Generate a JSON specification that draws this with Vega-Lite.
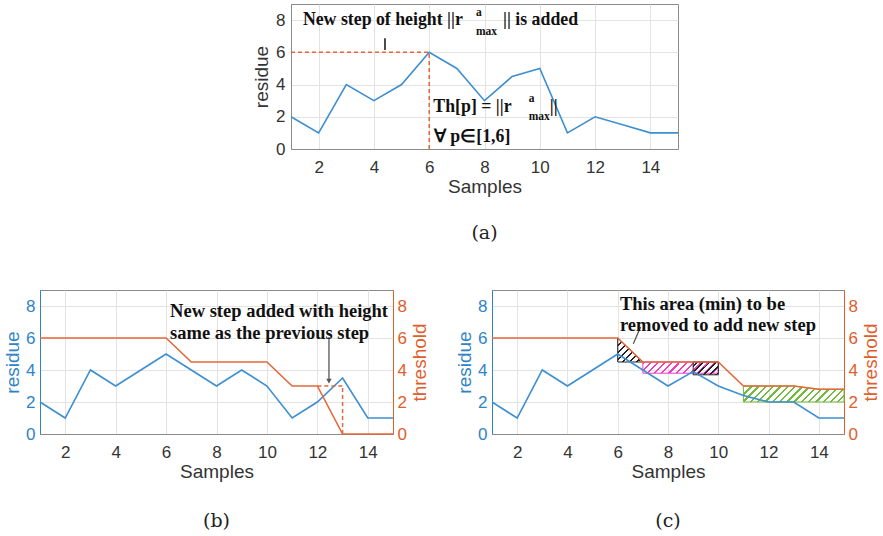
{
  "$schema": "https://vega.github.io/schema/vega-lite/v6.json",
  "background": "white",
  "padding": {"left": 3, "top": 3, "right": 5, "bottom": 5},
  "spacing": 45,
  "config": {
    "view": {"stroke": "#8a8a8a", "strokeWidth": 1},
    "axis": {"grid": true, "gridColor": "#e3e3e3", "gridWidth": 1, "ticks": false, "tickSize": 0, "domainColor": "#8a8a8a", "labelFont": "Liberation Sans", "titleFont": "Liberation Sans", "labelFontSize": 17, "titleFontSize": 19, "titleFontWeight": "normal", "labelColor": "#333333", "titleColor": "#333333", "labelPadding": 6},
    "title": {"font": "DejaVu Serif", "fontSize": 19, "fontWeight": "normal", "orient": "bottom", "frame": "group", "anchor": "middle", "color": "#222222"}
  },
  "datasets": {
    "resA": [{"x":1,"y":2},{"x":2,"y":1},{"x":3,"y":4},{"x":4,"y":3},{"x":5,"y":4},{"x":6,"y":6},{"x":7,"y":5},{"x":8,"y":3},{"x":9,"y":4.5},{"x":10,"y":5},{"x":11,"y":1},{"x":12,"y":2},{"x":13,"y":1.5},{"x":14,"y":1},{"x":15,"y":1}],
    "bR": [{"x":1,"y":2},{"x":2,"y":1},{"x":3,"y":4},{"x":4,"y":3},{"x":5,"y":4},{"x":6,"y":5},{"x":7,"y":4},{"x":8,"y":3},{"x":9,"y":4},{"x":10,"y":3},{"x":11,"y":1},{"x":12,"y":2},{"x":13,"y":3.5},{"x":14,"y":1},{"x":15,"y":1}],
    "bT": [{"x":1,"y":6},{"x":2,"y":6},{"x":3,"y":6},{"x":4,"y":6},{"x":5,"y":6},{"x":6,"y":6},{"x":7,"y":4.5},{"x":8,"y":4.5},{"x":9,"y":4.5},{"x":10,"y":4.5},{"x":11,"y":3},{"x":12,"y":3},{"x":13,"y":0},{"x":14,"y":0},{"x":15,"y":0}],
    "cR": [{"x":1,"y":2},{"x":2,"y":1},{"x":3,"y":4},{"x":4,"y":3},{"x":5,"y":4},{"x":6,"y":5},{"x":7,"y":4},{"x":8,"y":3},{"x":9,"y":3.9},{"x":10,"y":3},{"x":11,"y":2.4},{"x":12,"y":2},{"x":13,"y":2},{"x":14,"y":1},{"x":15,"y":1}],
    "cT": [{"x":1,"y":6},{"x":2,"y":6},{"x":3,"y":6},{"x":4,"y":6},{"x":5,"y":6},{"x":6,"y":6},{"x":7,"y":4.5},{"x":8,"y":4.5},{"x":9,"y":4.5},{"x":10,"y":4.5},{"x":11,"y":3},{"x":12,"y":3},{"x":13,"y":3},{"x":14,"y":2.8},{"x":15,"y":2.8}],
    "dashA": [{"x":1,"x2":6,"y":6,"y2":6},{"x":6,"x2":6,"y":0,"y2":6}],
    "dashB": [{"x":12,"x2":13,"y":3,"y2":3},{"x":13,"x2":13,"y":0,"y2":3}],
    "arrA": [{"x":4.4,"x2":4.4,"y":6.15,"y2":6.87}],
    "arrB": [{"x":12.46,"x2":12.46,"y":3.3,"y2":6.06}],
    "arrC": [{"x":6.62,"x2":6.91,"y":5.64,"y2":6.69}],
    "txtA": [{"x":1.43,"y":8,"s":"New step of height ||r"},{"x":8.67,"y":8,"s":"|| is added"},{"x":6.15,"y":2.59,"s":"Th[p] = ||r"},{"x":10.36,"y":2.59,"s":"||"},{"x":6.17,"y":0.72,"s":"∀ p∈[1,6]"}],
    "scrA": [{"x":7.69,"y":8.44,"s":"a"},{"x":7.69,"y":7.24,"s":"max"},{"x":9.6,"y":3.1,"s":"a"},{"x":9.6,"y":1.97,"s":"max"}],
    "txtB": [{"x":6.16,"y":7.69,"s":"New step added with height"},{"x":6.16,"y":6.31,"s":"same as the previous step"}],
    "txtC": [{"x":6.09,"y":8.13,"s":"This area (min) to be"},{"x":6.09,"y":6.81,"s":"removed to add new step"}],
    "regions": [
      {"g":"k1","x":6,"y":6,"y2":4.5},{"g":"k1","x":7,"y":4.5,"y2":4.5},
      {"g":"m","x":7,"y":4.5,"y2":3.8},{"g":"m","x":10,"y":4.5,"y2":3.8},
      {"g":"k2","x":9,"y":4.5,"y2":3.7},{"g":"k2","x":10,"y":4.5,"y2":3.7},
      {"g":"gr","x":11,"y":3,"y2":2},{"g":"gr","x":13,"y":3,"y2":2},{"g":"gr","x":14,"y":2.8,"y2":2},{"g":"gr","x":15,"y":2.8,"y2":2}
    ]
  },
  "vconcat": [
    {
      "spacing": 0,
      "hconcat": [
        {
          "width": 212, "height": 10,
          "data": {"values": [{"a": 1}]},
          "mark": {"type": "text", "text": " "},
          "encoding": {},
          "view": {"stroke": null}
        },
        {
          "width": 387, "height": 145,
          "title": {"text": "(a)", "offset": 28},
          "encoding": {
            "x": {"field": "x", "type": "quantitative", "scale": {"domain": [1, 15], "nice": false}, "axis": {"title": "Samples", "values": [2,4,6,8,10,12,14], "labelPadding": 10, "titlePadding": 2}},
            "y": {"field": "y", "type": "quantitative", "scale": {"domain": [0, 9], "nice": false}, "axis": {"title": "residue", "values": [0,2,4,6,8], "labelPadding": 6, "titlePadding": 4}}
          },
          "layer": [
            {"data": {"name": "dashA"}, "mark": {"type": "rule", "color": "#e8643a", "strokeDash": [4, 3], "strokeWidth": 1.5},
             "encoding": {"x2": {"field": "x2"}, "y2": {"field": "y2"}}},
            {"data": {"name": "resA"}, "mark": {"type": "line", "color": "#3e8fd1", "strokeWidth": 1.6}, "encoding": {}},
            {"data": {"name": "arrA"}, "mark": {"type": "rule", "color": "#111111", "strokeWidth": 1.5},
             "encoding": {"x2": {"field": "x2"}, "y2": {"field": "y2"}}},
            {"data": {"name": "txtA"}, "mark": {"type": "text", "align": "left", "baseline": "middle", "font": "Liberation Serif", "fontWeight": "bold", "fontSize": 17.8, "color": "#111111"},
             "encoding": {"text": {"field": "s"}}},
            {"data": {"name": "scrA"}, "mark": {"type": "text", "align": "left", "baseline": "middle", "font": "Liberation Serif", "fontWeight": "bold", "fontSize": 11.5, "color": "#111111"},
             "encoding": {"text": {"field": "s"}}}
          ]
        }
      ]
    },
    {
      "spacing": 25,
      "hconcat": [
        {
          "width": 353, "height": 144,
          "title": {"text": "(b)", "offset": 31},
          "resolve": {"scale": {"y": "independent"}},
          "encoding": {
            "x": {"field": "x", "type": "quantitative", "scale": {"domain": [1, 15], "nice": false}, "axis": {"title": "Samples", "values": [2,4,6,8,10,12,14], "labelPadding": 10, "titlePadding": 2}}
          },
          "layer": [
            {
              "encoding": {"y": {"field": "y", "type": "quantitative", "scale": {"domain": [0, 9], "nice": false}, "axis": {"orient": "left", "title": "residue", "values": [0,2,4,6,8], "labelColor": "#2f84c6", "titleColor": "#2f84c6", "domainColor": "#2f84c6", "labelPadding": 5, "titlePadding": 3}}},
              "layer": [
                {"data": {"name": "bR"}, "mark": {"type": "line", "color": "#3e8fd1", "strokeWidth": 1.6}, "encoding": {}},
                {"data": {"name": "arrB"}, "mark": {"type": "rule", "color": "#555555", "strokeWidth": 1.3},
                 "encoding": {"x2": {"field": "x2"}, "y2": {"field": "y2"}}},
                {"data": {"name": "arrB"}, "mark": {"type": "point", "shape": "triangle-down", "filled": true, "color": "#555555", "size": 30, "opacity": 1}, "encoding": {}},
                {"data": {"name": "txtB"}, "mark": {"type": "text", "align": "left", "baseline": "middle", "font": "Liberation Serif", "fontWeight": "bold", "fontSize": 18.5, "color": "#111111"},
                 "encoding": {"text": {"field": "s"}}}
              ]
            },
            {
              "encoding": {"y": {"field": "y", "type": "quantitative", "scale": {"domain": [0, 9], "nice": false}, "axis": {"orient": "right", "title": "threshold", "values": [0,2,4,6,8], "grid": false, "labelColor": "#e05d2c", "titleColor": "#e05d2c", "domainColor": "#e05d2c", "labelPadding": 4, "titlePadding": 4, "titleAngle": 270, "titleBaseline": "top"}}},
              "layer": [
                {"data": {"name": "bT"}, "mark": {"type": "line", "color": "#e4683b", "strokeWidth": 1.6}, "encoding": {}},
                {"data": {"name": "dashB"}, "mark": {"type": "rule", "color": "#e4683b", "strokeDash": [4, 3], "strokeWidth": 1.5},
                 "encoding": {"x2": {"field": "x2"}, "y2": {"field": "y2"}}}
              ]
            }
          ]
        },
        {
          "width": 352, "height": 144,
          "title": {"text": "(c)", "offset": 31},
          "resolve": {"scale": {"y": "independent"}},
          "encoding": {
            "x": {"field": "x", "type": "quantitative", "scale": {"domain": [1, 15], "nice": false}, "axis": {"title": "Samples", "values": [2,4,6,8,10,12,14], "labelPadding": 10, "titlePadding": 2}}
          },
          "layer": [
            {
              "encoding": {"y": {"field": "y", "type": "quantitative", "scale": {"domain": [0, 9], "nice": false}, "axis": {"orient": "left", "title": "residue", "values": [0,2,4,6,8], "labelColor": "#2f84c6", "titleColor": "#2f84c6", "domainColor": "#2f84c6", "labelPadding": 5, "titlePadding": 3}}},
              "layer": [
                {"data": {"name": "regions"}, "transform": [{"filter": "datum.g === 'k1'"}],
                 "mark": {"type": "area", "orient": "vertical", "stroke": "#222222", "strokeWidth": 1,
                          "fill": {"gradient": "linear", "x1": 0, "y1": 0, "x2": 1, "y2": 1, "stops": [
                            {"offset": 0, "color": "#222222"}, {"offset": 0.045, "color": "#222222"}, {"offset": 0.045, "color": "rgba(34,34,34,0)"}, {"offset": 0.1429, "color": "rgba(34,34,34,0)"},
                            {"offset": 0.1429, "color": "#222222"}, {"offset": 0.1879, "color": "#222222"}, {"offset": 0.1879, "color": "rgba(34,34,34,0)"}, {"offset": 0.2857, "color": "rgba(34,34,34,0)"},
                            {"offset": 0.2857, "color": "#222222"}, {"offset": 0.3307, "color": "#222222"}, {"offset": 0.3307, "color": "rgba(34,34,34,0)"}, {"offset": 0.4286, "color": "rgba(34,34,34,0)"},
                            {"offset": 0.4286, "color": "#222222"}, {"offset": 0.4736, "color": "#222222"}, {"offset": 0.4736, "color": "rgba(34,34,34,0)"}, {"offset": 0.5714, "color": "rgba(34,34,34,0)"},
                            {"offset": 0.5714, "color": "#222222"}, {"offset": 0.6164, "color": "#222222"}, {"offset": 0.6164, "color": "rgba(34,34,34,0)"}, {"offset": 0.7143, "color": "rgba(34,34,34,0)"},
                            {"offset": 0.7143, "color": "#222222"}, {"offset": 0.7593, "color": "#222222"}, {"offset": 0.7593, "color": "rgba(34,34,34,0)"}, {"offset": 0.8571, "color": "rgba(34,34,34,0)"},
                            {"offset": 0.8571, "color": "#222222"}, {"offset": 0.9021, "color": "#222222"}, {"offset": 0.9021, "color": "rgba(34,34,34,0)"}, {"offset": 1, "color": "rgba(34,34,34,0)"}]}},
                 "encoding": {"y2": {"field": "y2"}}},
                {"data": {"name": "regions"}, "transform": [{"filter": "datum.g === 'm'"}],
                 "mark": {"type": "area", "orient": "vertical", "stroke": "#ee3fc4", "strokeWidth": 1,
                          "fill": {"gradient": "linear", "x1": 0, "y1": 0, "x2": 1.12, "y2": 0.165, "stops": [
                            {"offset": 0, "color": "#ee3fc4"}, {"offset": 0.025, "color": "#ee3fc4"}, {"offset": 0.025, "color": "rgba(238,63,196,0)"}, {"offset": 0.0833, "color": "rgba(238,63,196,0)"},
                            {"offset": 0.0833, "color": "#ee3fc4"}, {"offset": 0.1083, "color": "#ee3fc4"}, {"offset": 0.1083, "color": "rgba(238,63,196,0)"}, {"offset": 0.1667, "color": "rgba(238,63,196,0)"},
                            {"offset": 0.1667, "color": "#ee3fc4"}, {"offset": 0.1917, "color": "#ee3fc4"}, {"offset": 0.1917, "color": "rgba(238,63,196,0)"}, {"offset": 0.25, "color": "rgba(238,63,196,0)"},
                            {"offset": 0.25, "color": "#ee3fc4"}, {"offset": 0.275, "color": "#ee3fc4"}, {"offset": 0.275, "color": "rgba(238,63,196,0)"}, {"offset": 0.3333, "color": "rgba(238,63,196,0)"},
                            {"offset": 0.3333, "color": "#ee3fc4"}, {"offset": 0.3583, "color": "#ee3fc4"}, {"offset": 0.3583, "color": "rgba(238,63,196,0)"}, {"offset": 0.4167, "color": "rgba(238,63,196,0)"},
                            {"offset": 0.4167, "color": "#ee3fc4"}, {"offset": 0.4417, "color": "#ee3fc4"}, {"offset": 0.4417, "color": "rgba(238,63,196,0)"}, {"offset": 0.5, "color": "rgba(238,63,196,0)"},
                            {"offset": 0.5, "color": "#ee3fc4"}, {"offset": 0.525, "color": "#ee3fc4"}, {"offset": 0.525, "color": "rgba(238,63,196,0)"}, {"offset": 0.5833, "color": "rgba(238,63,196,0)"},
                            {"offset": 0.5833, "color": "#ee3fc4"}, {"offset": 0.6083, "color": "#ee3fc4"}, {"offset": 0.6083, "color": "rgba(238,63,196,0)"}, {"offset": 0.6667, "color": "rgba(238,63,196,0)"},
                            {"offset": 0.6667, "color": "#ee3fc4"}, {"offset": 0.6917, "color": "#ee3fc4"}, {"offset": 0.6917, "color": "rgba(238,63,196,0)"}, {"offset": 0.75, "color": "rgba(238,63,196,0)"},
                            {"offset": 0.75, "color": "#ee3fc4"}, {"offset": 0.775, "color": "#ee3fc4"}, {"offset": 0.775, "color": "rgba(238,63,196,0)"}, {"offset": 0.8333, "color": "rgba(238,63,196,0)"},
                            {"offset": 0.8333, "color": "#ee3fc4"}, {"offset": 0.8583, "color": "#ee3fc4"}, {"offset": 0.8583, "color": "rgba(238,63,196,0)"}, {"offset": 0.9167, "color": "rgba(238,63,196,0)"},
                            {"offset": 0.9167, "color": "#ee3fc4"}, {"offset": 0.9417, "color": "#ee3fc4"}, {"offset": 0.9417, "color": "rgba(238,63,196,0)"}, {"offset": 1, "color": "rgba(238,63,196,0)"}]}},
                 "encoding": {"y2": {"field": "y2"}}},
                {"data": {"name": "regions"}, "transform": [{"filter": "datum.g === 'k2'"}],
                 "mark": {"type": "area", "orient": "vertical", "stroke": "#222222", "strokeWidth": 1,
                          "fill": {"gradient": "linear", "x1": 0, "y1": 0, "x2": 1.2, "y2": 0.62, "stops": [
                            {"offset": 0, "color": "rgba(34,34,34,0)"}, {"offset": 0.0833, "color": "rgba(34,34,34,0)"}, {"offset": 0.0833, "color": "#222222"}, {"offset": 0.1333, "color": "#222222"},
                            {"offset": 0.1333, "color": "rgba(34,34,34,0)"}, {"offset": 0.25, "color": "rgba(34,34,34,0)"}, {"offset": 0.25, "color": "#222222"}, {"offset": 0.3, "color": "#222222"},
                            {"offset": 0.3, "color": "rgba(34,34,34,0)"}, {"offset": 0.4167, "color": "rgba(34,34,34,0)"}, {"offset": 0.4167, "color": "#222222"}, {"offset": 0.4667, "color": "#222222"},
                            {"offset": 0.4667, "color": "rgba(34,34,34,0)"}, {"offset": 0.5833, "color": "rgba(34,34,34,0)"}, {"offset": 0.5833, "color": "#222222"}, {"offset": 0.6333, "color": "#222222"},
                            {"offset": 0.6333, "color": "rgba(34,34,34,0)"}, {"offset": 0.75, "color": "rgba(34,34,34,0)"}, {"offset": 0.75, "color": "#222222"}, {"offset": 0.8, "color": "#222222"},
                            {"offset": 0.8, "color": "rgba(34,34,34,0)"}, {"offset": 0.9167, "color": "rgba(34,34,34,0)"}, {"offset": 0.9167, "color": "#222222"}, {"offset": 0.9667, "color": "#222222"},
                            {"offset": 0.9667, "color": "rgba(34,34,34,0)"}, {"offset": 1, "color": "rgba(34,34,34,0)"}]}},
                 "encoding": {"y2": {"field": "y2"}}},
                {"data": {"name": "regions"}, "transform": [{"filter": "datum.g === 'gr'"}],
                 "mark": {"type": "area", "orient": "vertical", "stroke": "#72bb3c", "strokeWidth": 1,
                          "fill": {"gradient": "linear", "x1": 0, "y1": 0, "x2": 1.13, "y2": 0.18, "stops": [
                            {"offset": 0, "color": "#72bb3c"}, {"offset": 0.02, "color": "#72bb3c"}, {"offset": 0.02, "color": "rgba(114,187,60,0)"}, {"offset": 0.0625, "color": "rgba(114,187,60,0)"},
                            {"offset": 0.0625, "color": "#72bb3c"}, {"offset": 0.0825, "color": "#72bb3c"}, {"offset": 0.0825, "color": "rgba(114,187,60,0)"}, {"offset": 0.125, "color": "rgba(114,187,60,0)"},
                            {"offset": 0.125, "color": "#72bb3c"}, {"offset": 0.145, "color": "#72bb3c"}, {"offset": 0.145, "color": "rgba(114,187,60,0)"}, {"offset": 0.1875, "color": "rgba(114,187,60,0)"},
                            {"offset": 0.1875, "color": "#72bb3c"}, {"offset": 0.2075, "color": "#72bb3c"}, {"offset": 0.2075, "color": "rgba(114,187,60,0)"}, {"offset": 0.25, "color": "rgba(114,187,60,0)"},
                            {"offset": 0.25, "color": "#72bb3c"}, {"offset": 0.27, "color": "#72bb3c"}, {"offset": 0.27, "color": "rgba(114,187,60,0)"}, {"offset": 0.3125, "color": "rgba(114,187,60,0)"},
                            {"offset": 0.3125, "color": "#72bb3c"}, {"offset": 0.3325, "color": "#72bb3c"}, {"offset": 0.3325, "color": "rgba(114,187,60,0)"}, {"offset": 0.375, "color": "rgba(114,187,60,0)"},
                            {"offset": 0.375, "color": "#72bb3c"}, {"offset": 0.395, "color": "#72bb3c"}, {"offset": 0.395, "color": "rgba(114,187,60,0)"}, {"offset": 0.4375, "color": "rgba(114,187,60,0)"},
                            {"offset": 0.4375, "color": "#72bb3c"}, {"offset": 0.4575, "color": "#72bb3c"}, {"offset": 0.4575, "color": "rgba(114,187,60,0)"}, {"offset": 0.5, "color": "rgba(114,187,60,0)"},
                            {"offset": 0.5, "color": "#72bb3c"}, {"offset": 0.52, "color": "#72bb3c"}, {"offset": 0.52, "color": "rgba(114,187,60,0)"}, {"offset": 0.5625, "color": "rgba(114,187,60,0)"},
                            {"offset": 0.5625, "color": "#72bb3c"}, {"offset": 0.5825, "color": "#72bb3c"}, {"offset": 0.5825, "color": "rgba(114,187,60,0)"}, {"offset": 0.625, "color": "rgba(114,187,60,0)"},
                            {"offset": 0.625, "color": "#72bb3c"}, {"offset": 0.645, "color": "#72bb3c"}, {"offset": 0.645, "color": "rgba(114,187,60,0)"}, {"offset": 0.6875, "color": "rgba(114,187,60,0)"},
                            {"offset": 0.6875, "color": "#72bb3c"}, {"offset": 0.7075, "color": "#72bb3c"}, {"offset": 0.7075, "color": "rgba(114,187,60,0)"}, {"offset": 0.75, "color": "rgba(114,187,60,0)"},
                            {"offset": 0.75, "color": "#72bb3c"}, {"offset": 0.77, "color": "#72bb3c"}, {"offset": 0.77, "color": "rgba(114,187,60,0)"}, {"offset": 0.8125, "color": "rgba(114,187,60,0)"},
                            {"offset": 0.8125, "color": "#72bb3c"}, {"offset": 0.8325, "color": "#72bb3c"}, {"offset": 0.8325, "color": "rgba(114,187,60,0)"}, {"offset": 0.875, "color": "rgba(114,187,60,0)"},
                            {"offset": 0.875, "color": "#72bb3c"}, {"offset": 0.895, "color": "#72bb3c"}, {"offset": 0.895, "color": "rgba(114,187,60,0)"}, {"offset": 0.9375, "color": "rgba(114,187,60,0)"},
                            {"offset": 0.9375, "color": "#72bb3c"}, {"offset": 0.9575, "color": "#72bb3c"}, {"offset": 0.9575, "color": "rgba(114,187,60,0)"}, {"offset": 1, "color": "rgba(114,187,60,0)"}]}},
                 "encoding": {"y2": {"field": "y2"}}},
                {"data": {"name": "cR"}, "mark": {"type": "line", "color": "#3e8fd1", "strokeWidth": 1.6}, "encoding": {}},
                {"data": {"name": "arrC"}, "mark": {"type": "rule", "color": "#555555", "strokeWidth": 1.3},
                 "encoding": {"x2": {"field": "x2"}, "y2": {"field": "y2"}}},
                {"data": {"name": "txtC"}, "mark": {"type": "text", "align": "left", "baseline": "middle", "font": "Liberation Serif", "fontWeight": "bold", "fontSize": 18.5, "color": "#111111"},
                 "encoding": {"text": {"field": "s"}}}
              ]
            },
            {
              "encoding": {"y": {"field": "y", "type": "quantitative", "scale": {"domain": [0, 9], "nice": false}, "axis": {"orient": "right", "title": "threshold", "values": [0,2,4,6,8], "grid": false, "labelColor": "#e05d2c", "titleColor": "#e05d2c", "domainColor": "#e05d2c", "labelPadding": 4, "titlePadding": 4, "titleAngle": 270, "titleBaseline": "top"}}},
              "layer": [
                {"data": {"name": "cT"}, "mark": {"type": "line", "color": "#e4683b", "strokeWidth": 1.6}, "encoding": {}}
              ]
            }
          ]
        }
      ]
    }
  ]
}
